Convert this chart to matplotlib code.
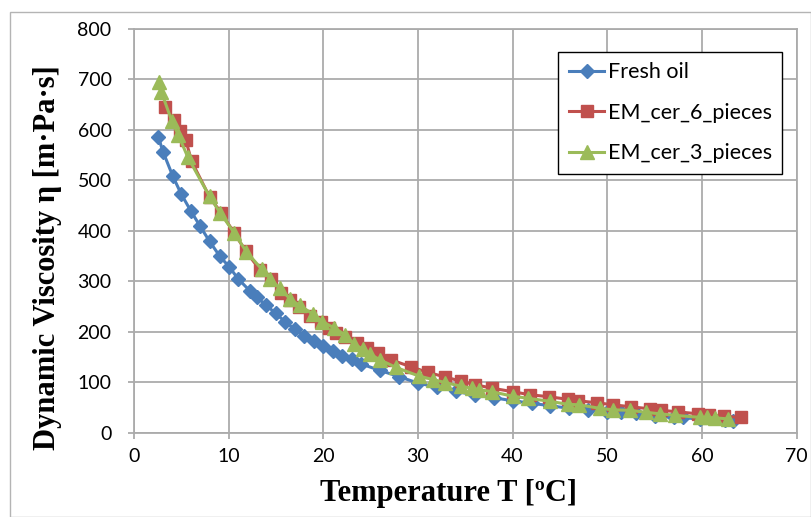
import matplotlib
matplotlib.use('Agg')
import matplotlib.pyplot as plt
from matplotlib.patches import Rectangle

# 数据
T_fresh = [2.6, 3.1, 4.1, 5.0, 6.0, 7.0, 8.0, 9.1, 10.1, 11.0, 12.3, 13.0, 14.0, 15.0,
           16.0, 17.0, 18.0, 19.0, 20.0, 21.0, 22.0, 23.0, 24.0, 26.0, 28.0, 30.0, 32.0,
           34.0, 36.0, 38.0, 40.0, 42.0, 44.0, 46.0, 48.0, 50.0, 51.4, 53.0, 55.0, 57.0,
           58.0, 59.8, 62.4, 63.3]
eta_fresh = [585, 556, 509, 473, 440, 409, 379, 349, 328, 305, 280, 268, 252, 236,
             219, 205, 192, 181, 171, 161, 152, 145, 136, 123, 111, 98, 90,
             82, 74, 69, 63, 58, 53, 48, 45, 41, 40, 38, 33, 30,
             30, 26, 24, 23]

T_cer6 = [3.3, 4.2, 4.9, 5.5, 6.1, 8.0, 9.2, 10.6, 11.8, 13.3, 14.5, 15.5, 16.5, 17.4,
          18.6, 19.8, 20.6, 21.4, 22.3, 23.6, 24.6, 25.8, 27.2, 29.3, 31.1, 32.9, 34.5,
          36.0, 37.8, 40.0, 41.8, 43.8, 45.8, 46.9, 48.9, 50.6, 52.5, 54.5, 55.7, 57.5,
          59.6, 60.7, 62.3, 64.1]
eta_cer6 = [646, 620, 598, 579, 538, 467, 436, 396, 360, 323, 305, 276, 262, 248,
            232, 219, 208, 197, 190, 177, 168, 158, 144, 130, 119, 110, 102,
            95, 88, 81, 75, 71, 66, 63, 59, 55, 51, 47, 44, 41,
            37, 35, 32, 30]

T_cer3 = [2.7, 2.9, 4.0, 4.7, 5.7, 8.0, 9.1, 10.6, 11.9, 13.5, 14.4, 15.4, 16.5, 17.5,
          18.9, 19.9, 21.1, 22.3, 23.2, 24.2, 24.9, 26.0, 27.7, 30.1, 31.6, 32.9, 34.5,
          35.7, 36.5, 37.8, 40.0, 41.6, 43.9, 45.8, 47.0, 49.2, 50.6, 52.4, 54.1, 55.6,
          57.2, 59.8, 60.5, 61.4, 62.8]
eta_cer3 = [695, 676, 618, 590, 546, 468, 436, 396, 358, 324, 305, 286, 265, 252,
            235, 220, 208, 194, 176, 165, 156, 144, 129, 112, 105, 99, 92,
            88, 85, 81, 72, 68, 62, 56, 55, 48, 45, 44, 40, 37,
            34, 30, 30, 29, 27]

tick_font = 'Lato'
label_font = 'Liberation Serif'

fig = plt.figure(figsize=(8.12, 5.17), dpi=100)
ax = fig.add_axes([0.1648, 0.1634, 0.8163, 0.7805])

# 外框
fig.patches.append(Rectangle((10/812, 0), 801/812, 1 - 12/517, transform=fig.transFigure,
                             fill=False, edgecolor='#b4b4b4', linewidth=1.0))

ax.plot(T_fresh, eta_fresh, color='#4a7ebb', marker='D', markersize=7.5, linewidth=2.2,
        label='Fresh oil')
ax.plot(T_cer6, eta_cer6, color='#c0504d', marker='s', markersize=8, linewidth=2.2,
        label='EM_cer_6_pieces')
ax.plot(T_cer3, eta_cer3, color='#9bbb59', marker='^', markersize=9.5, linewidth=2.2,
        label='EM_cer_3_pieces')

ax.set_xlim(0, 70)
ax.set_ylim(0, 800)
ax.set_xticks(range(0, 71, 10))
ax.set_yticks(range(0, 801, 100))
ax.grid(True, color='#ababab', linewidth=1.3)
ax.set_axisbelow(True)
for s in ax.spines.values():
    s.set_color('#ababab')
    s.set_linewidth(1.3)
ax.tick_params(axis='both', colors='#ababab', length=4, width=1.3, labelcolor='black',
               labelsize=14)
ax.tick_params(axis='y', pad=12)
ax.tick_params(axis='x', pad=7)
for lab in ax.get_xticklabels() + ax.get_yticklabels():
    lab.set_family(tick_font)

ax.set_xlabel('Temperature T [ºC]', family=label_font, fontweight='bold', fontsize=22)
ax.set_ylabel('Dynamic Viscosity η [m·Pa·s]', family=label_font, fontweight='bold', fontsize=22)
ax.xaxis.label.set_va('center')
ax.yaxis.label.set_va('center')
ax.xaxis.set_label_coords(0.474, -0.15)
ax.yaxis.set_label_coords(-0.13, 0.434)

leg = ax.legend(loc='upper right', bbox_to_anchor=(782/812, 1 - 52/517),
                bbox_transform=fig.transFigure, prop={'family': tick_font, 'size': 15.5},
                fancybox=False, edgecolor='black', framealpha=1, borderpad=0.48,
                labelspacing=0.95, handlelength=1.65, handletextpad=0.15, borderaxespad=0)
leg.get_frame().set_linewidth(1.0)

plt.savefig('out.png', dpi=100)
